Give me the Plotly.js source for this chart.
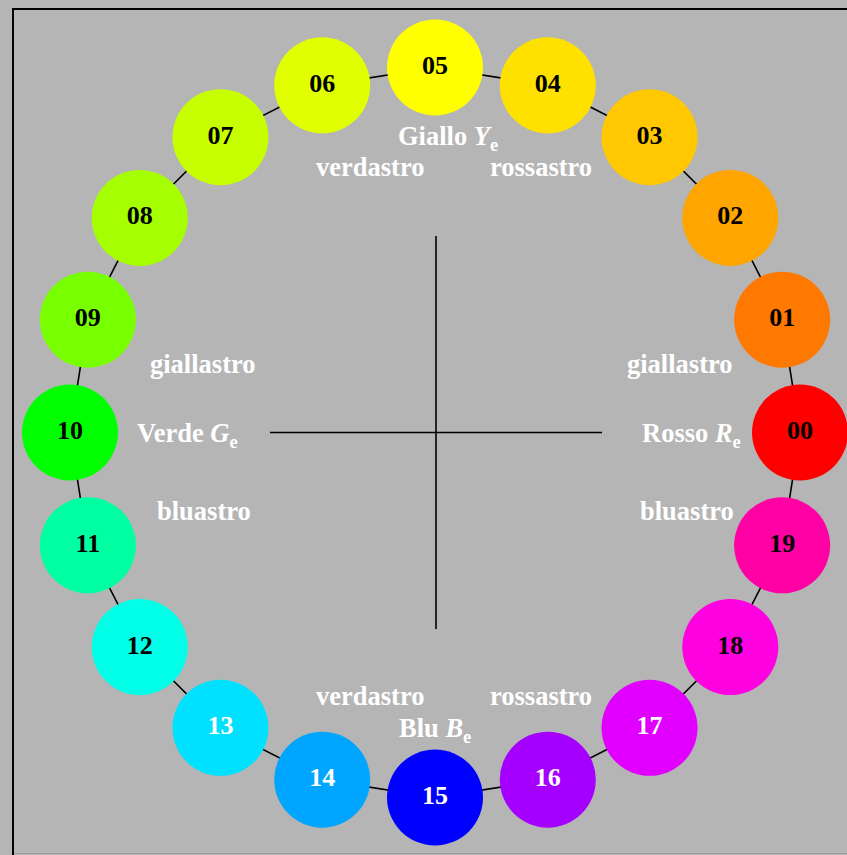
<!DOCTYPE html>
<html>
<head>
<meta charset="utf-8">
<script src="https://cdn.plot.ly/plotly-3.0.1.min.js"></script>
<style>
html,body{margin:0;padding:0;background:#b5b5b5;}
#chart{width:847px;height:855px;}
</style>
</head>
<body>
<div id="chart"></div>
<script>
// ---- data ----
const hueLabels = ["00","01","02","03","04","05","06","07","08","09","10","11","12","13","14","15","16","17","18","19"];
const hueAngles = [0,18,36,54,72,90,108,126,144,162,180,198,216,234,252,270,288,306,324,342];
const hueColors = ["#ff0000","#ff7800","#ffa500","#ffc800","#ffe100","#ffff00","#e1ff00","#c8ff00","#a5ff00","#78ff00",
                   "#00ff00","#00ffa0","#00ffe6","#00e1ff","#00a5ff","#0000ff","#a500ff","#e100ff","#ff00e1","#ff00a5"];
const labelColors = ["#000","#000","#000","#000","#000","#000","#000","#000","#000","#000",
                     "#000","#000","#000","#fff","#fff","#fff","#fff","#fff","#000","#000"];
const axisTexts = ["Giallo <i>Y</i><sub>e</sub>","Verde <i>G</i><sub>e</sub>","Rosso <i>R</i><sub>e</sub>","Blu <i>B</i><sub>e</sub>"];
const hintTexts = ["verdastro","rossastro","giallastro","giallastro","bluastro","bluastro","verdastro","rossastro"];
const radius = 365;

// ---- geometry ----
const xs = hueAngles.map(a => radius*Math.cos(a*Math.PI/180));
const ys = hueAngles.map(a => radius*Math.sin(a*Math.PI/180));

const ringTrace = {
  x: xs.concat([xs[0]]), y: ys.concat([ys[0]]),
  mode: "lines", line: {color: "#000", width: 1.6},
  hoverinfo: "skip", showlegend: false
};
const crossH = {x: [-165, 167], y: [0, 0], mode: "lines", line: {color: "#000", width: 1.6}, hoverinfo: "skip", showlegend: false};
const crossV = {x: [1, 1], y: [196.5, -196.5], mode: "lines", line: {color: "#000", width: 1.6}, hoverinfo: "skip", showlegend: false};
const dots = {
  x: xs, y: ys, mode: "markers+text", text: hueLabels.map(t => "<b>"+t+"</b>"),
  textposition: "middle center",
  textfont: {family: "Liberation Serif, Times New Roman, serif", size: 26, color: labelColors},
  marker: {size: 96, color: hueColors, line: {width: 0}},
  hoverinfo: "skip", showlegend: false
};

const fontW = {family: "Liberation Serif, Times New Roman, serif", size: 26.5, color: "#ffffff"};
function ann(text, x, y) {
  return {text: "<b>"+text+"</b>", x: x, y: y, xref: "x", yref: "y", showarrow: false,
          font: fontW, xanchor: "center", yanchor: "middle"};
}
const annotations = [
  ann(axisTexts[0], 13, 295),
  ann(axisTexts[1], -247.5, -2),
  ann(axisTexts[2], 256, -2),
  ann(axisTexts[3], 0, -297.5),
  ann(hintTexts[0], -65.5, 265.5),
  ann(hintTexts[1], 105.5, 265.5),
  ann(hintTexts[2], -232.5, 68.5),
  ann(hintTexts[3], 244.5, 68.5),
  ann(hintTexts[4], -231.5, -78.5),
  ann(hintTexts[5], 251.5, -78.5),
  ann(hintTexts[6], -65.5, -263.5),
  ann(hintTexts[7], 105.5, -263.5)
];

const layout = {
  width: 847, height: 855,
  margin: {l: 0, r: 0, t: 0, b: 0, pad: 0},
  paper_bgcolor: "#b5b5b5", plot_bgcolor: "#b5b5b5",
  xaxis: {range: [-435, 412], visible: false, fixedrange: true},
  yaxis: {range: [-422.5, 432.5], visible: false, fixedrange: true},
  hovermode: false, showlegend: false,
  annotations: annotations,
  shapes: [
    {type: "rect", xref: "paper", yref: "paper", x0: 13/847, x1: 1.2, y0: -0.2, y1: 1 - 9/855,
     line: {color: "#000", width: 2}, fillcolor: "rgba(0,0,0,0)", layer: "below"},
    {type: "line", xref: "paper", yref: "paper", x0: 14/847, x1: 1, y0: 1.5/855, y1: 1.5/855,
     line: {color: "#9a9a9a", width: 1}, layer: "below"}
  ]
};

Plotly.newPlot("chart", [ringTrace, crossH, crossV, dots], layout, {displayModeBar: false, staticPlot: true});
</script>
</body>
</html>
